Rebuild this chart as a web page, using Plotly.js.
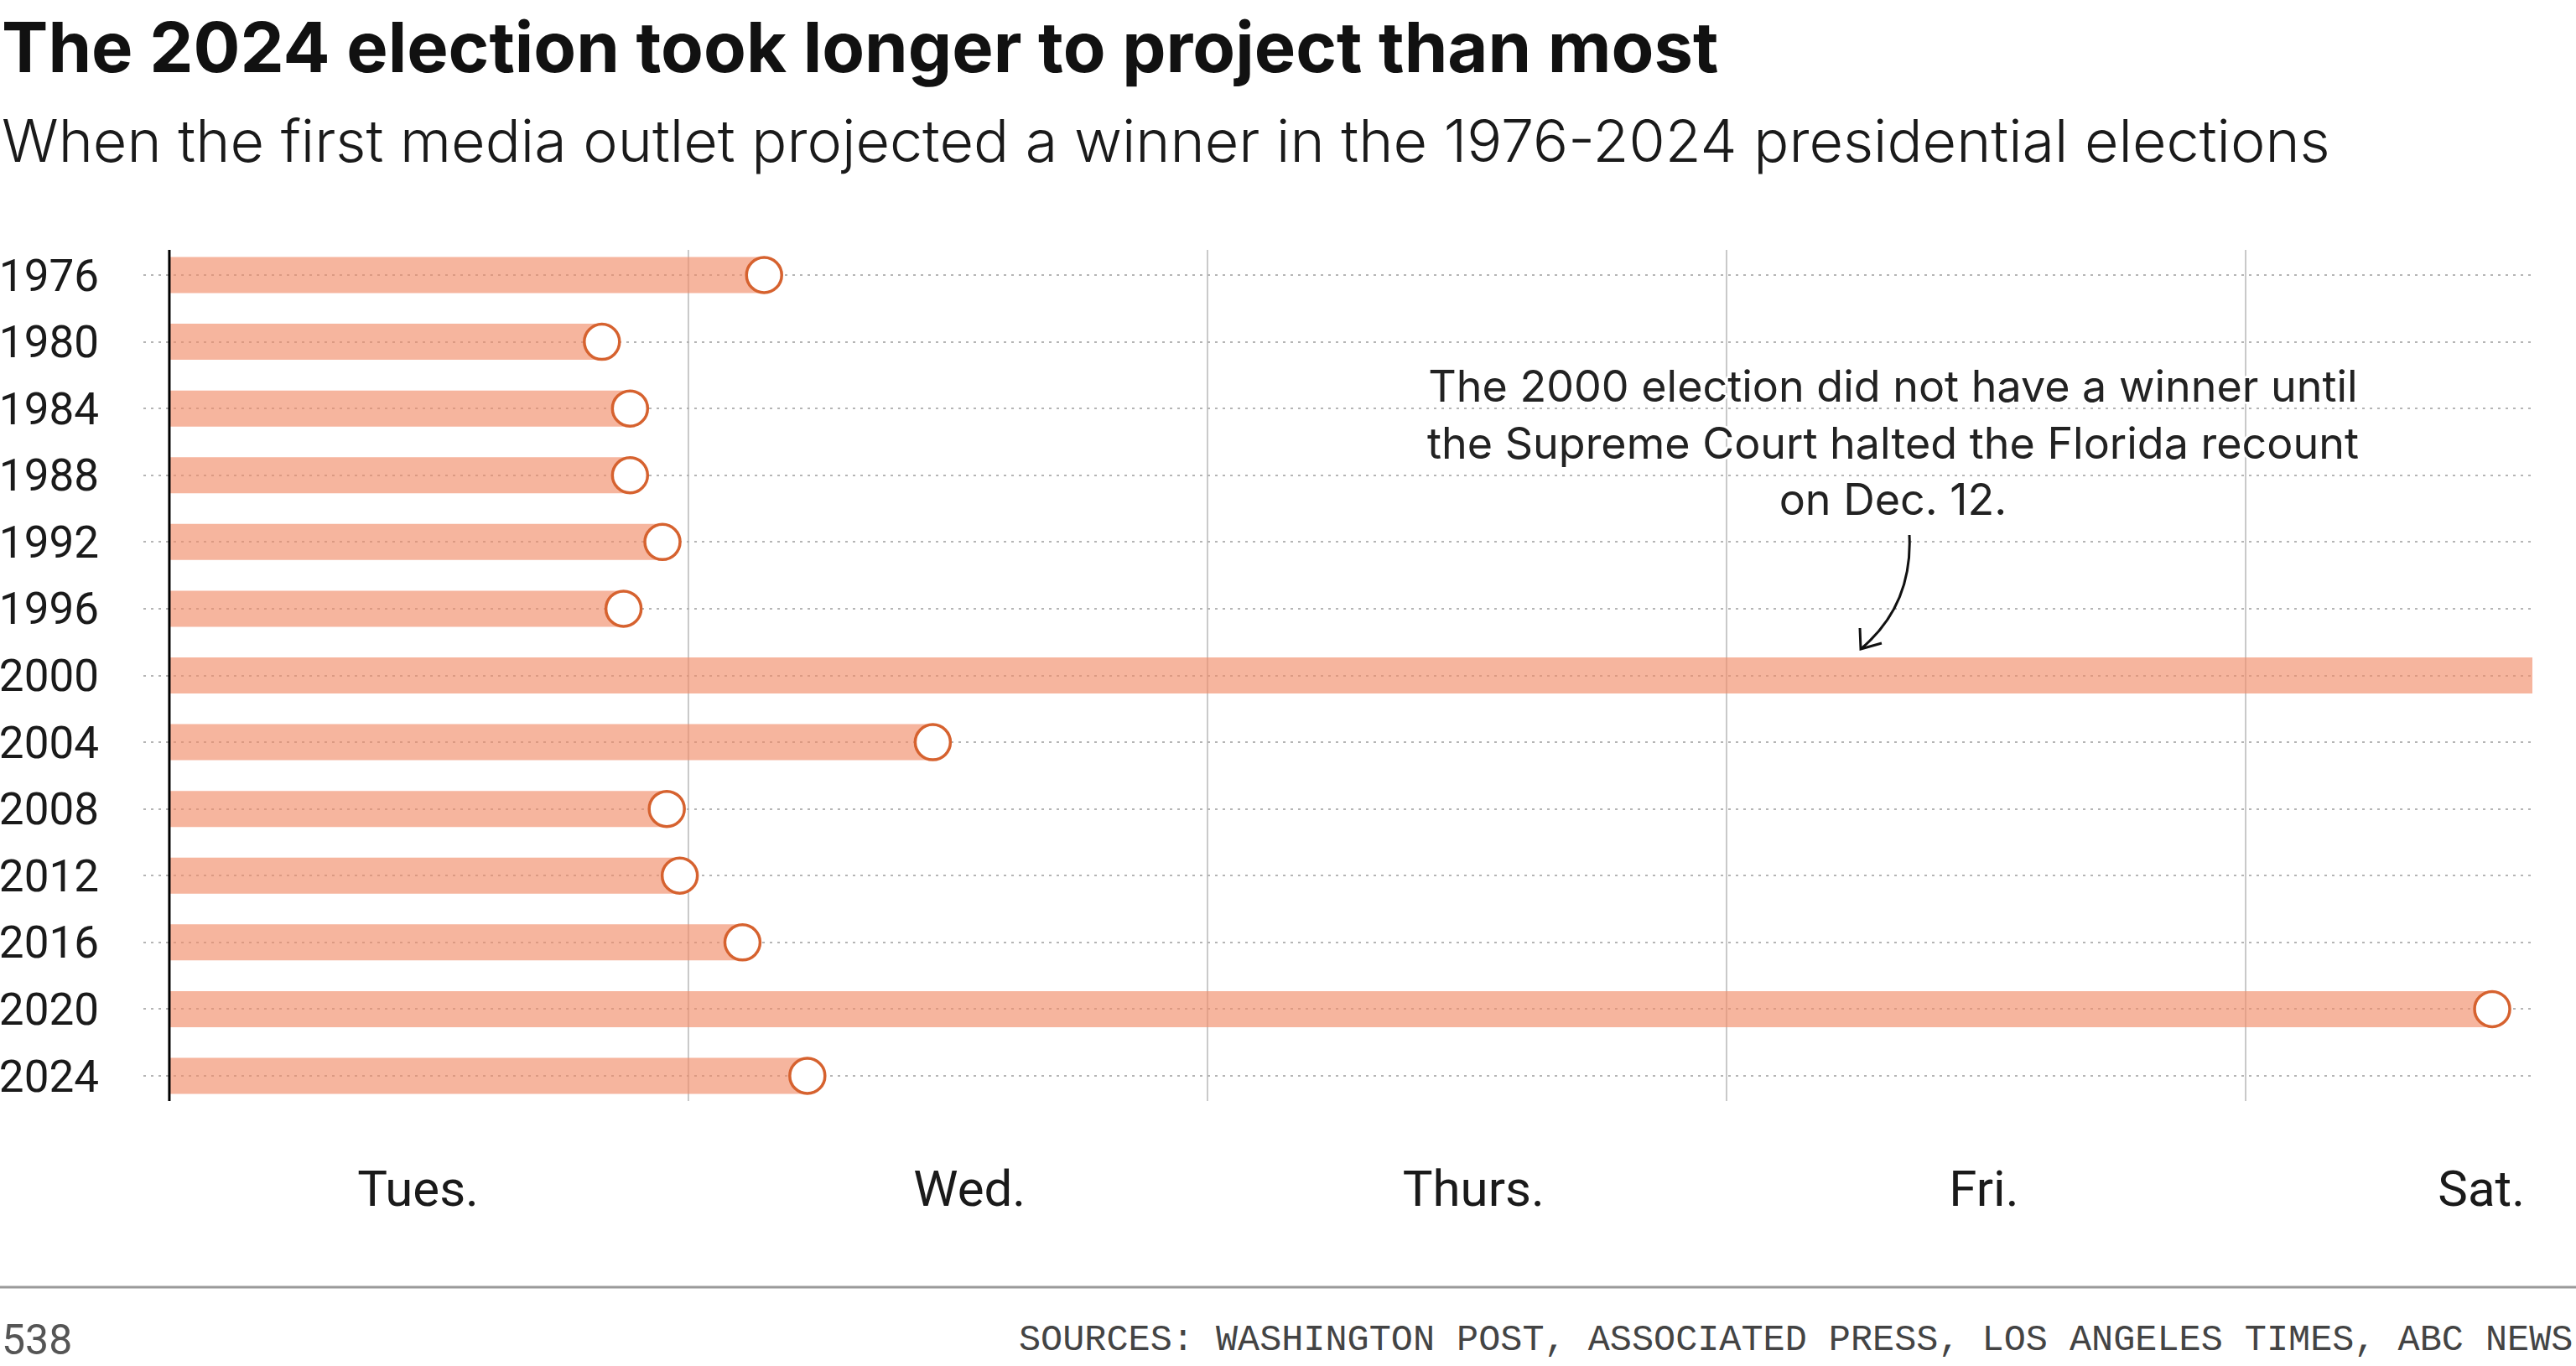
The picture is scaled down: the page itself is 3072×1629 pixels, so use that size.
<!DOCTYPE html>
<html>
<head>
<meta charset="utf-8">
<script src="https://cdn.plot.ly/plotly-3.0.1.min.js"></script>
<style>
  html, body { margin: 0; padding: 0; background: #fff; }
  #chart { width: 3072px; height: 1629px; }
</style>
</head>
<body>
<div id="chart"></div>
<script>
// ---- Data ----
// Election years (top to bottom)
const years = ['1976','1980','1984','1988','1992','1996','2000','2004','2008','2012','2016','2020','2024'];
// Hours after midnight at the start of Election Day (Tuesday) when the first outlet projected a winner.
// 2000: no winner until Dec. 12 (about 35 days later), so the bar runs off the chart.
const projectedHours = [27.5, 20.0, 21.3, 21.3, 22.8, 21.0, 862, 35.3, 23.0, 23.6, 26.5, 107.4, 29.5];
// Day labels along the bottom
const dayLabels = ['Tues.', 'Wed.', 'Thurs.', 'Fri.', 'Sat.'];
const dayLabelHours = [11.5, 37.0, 60.3, 83.9, 106.9];
// Midnight boundaries between days (hours)
const dayBoundaries = [24, 48, 72, 96];
const noteText = 'The 2000 election did not have a winner until<br>the Supreme Court halted the Florida recount<br>on Dec. 12.';
const titleText = 'The 2024 election took longer to project than most';
const subtitleText = 'When the first media outlet projected a winner in the 1976-2024 presidential elections';
const sourceText = 'SOURCES: WASHINGTON POST, ASSOCIATED PRESS, LOS ANGELES TIMES, ABC NEWS';
const brandText = '538';

// ---- Layout geometry ----
const W = 3072, H = 1629;
const M = { l: 171, r: 52, t: 298, b: 316 };
const PW = W - M.l - M.r, PH = H - M.t - M.b;
const px = x => (x - M.l) / PW;           // page px -> paper x
const py = y => (H - M.b - y) / PH;       // page px -> paper y

const FONT = 'Roboto, "Noto Sans", sans-serif';
const HEAD = 'Inter, Roboto, sans-serif';
const barColor = 'rgba(241,140,104,0.64)';
const dotColor = '#d6622f';

const bars = {
  type: 'bar', orientation: 'h',
  y: years, x: projectedHours,
  width: 0.54,
  marker: { color: barColor, line: { width: 0 } },
  hoverinfo: 'skip'
};
const ends = {
  type: 'scatter', mode: 'markers',
  y: years, x: projectedHours,
  cliponaxis: true,
  marker: { size: 42, color: '#ffffff', line: { color: dotColor, width: 3.5 } },
  hoverinfo: 'skip'
};

const shapes = dayBoundaries.map(h => ({
  type: 'line', xref: 'x', yref: 'paper', x0: h, x1: h, y0: 0, y1: 1,
  line: { color: '#c9c9c9', width: 2 }, layer: 'below'
}));
// black baseline at x = 0
shapes.push({ type: 'line', xref: 'x', yref: 'paper', x0: 0, x1: 0, y0: 0, y1: 1,
  line: { color: '#000', width: 3 }, layer: 'above' });
// footer rule
shapes.push({ type: 'line', xref: 'paper', yref: 'paper', x0: px(0), x1: px(W), y0: py(1535), y1: py(1535),
  line: { color: '#9a9a9a', width: 3 } });
// curved pointer arrow for the note
const P = (x, y) => px(x).toFixed(5) + ',' + py(y).toFixed(5);
shapes.push({ type: 'path', xref: 'paper', yref: 'paper',
  path: 'M' + P(2277, 638) + ' Q' + P(2281, 722) + ' ' + P(2219, 774),
  line: { color: '#111', width: 3 } });
shapes.push({ type: 'path', xref: 'paper', yref: 'paper',
  path: 'M' + P(2218, 749) + ' L' + P(2219, 774) + ' L' + P(2244, 767),
  line: { color: '#111', width: 3 } });

const halo = '3px 0 0 #fff, -3px 0 0 #fff, 0 3px 0 #fff, 0 -3px 0 #fff, 2px 2px 0 #fff, -2px -2px 0 #fff, 2px -2px 0 #fff, -2px 2px 0 #fff';

const annotations = [
  { text: '<b>' + titleText + '</b>', xref: 'paper', yref: 'paper', x: px(0), y: py(56),
    xanchor: 'left', yanchor: 'middle', showarrow: false,
    font: { family: HEAD, size: 83, color: '#111' } },
  { text: subtitleText, xref: 'paper', yref: 'paper', x: px(0), y: py(167),
    xanchor: 'left', yanchor: 'middle', showarrow: false,
    font: { family: HEAD, size: 70, color: '#1a1a1a', weight: 300 } },
  { text: noteText, xref: 'paper', yref: 'paper', x: px(2257), y: py(528),
    xanchor: 'center', yanchor: 'middle', align: 'center', showarrow: false,
    font: { family: HEAD, size: 52, color: '#222', shadow: halo } },
  { text: brandText, xref: 'paper', yref: 'paper', x: px(0), y: py(1598),
    xanchor: 'left', yanchor: 'middle', showarrow: false,
    font: { family: FONT, size: 50, color: '#555' } },
  { text: sourceText, xref: 'paper', yref: 'paper', x: px(3070), y: py(1598),
    xanchor: 'right', yanchor: 'middle', showarrow: false,
    font: { family: '"Liberation Mono", "DejaVu Sans Mono", monospace', size: 43.5, color: '#444' } }
];

const layout = {
  width: W, height: H, autosize: false,
  margin: M,
  paper_bgcolor: '#fff', plot_bgcolor: '#fff',
  showlegend: false,
  font: { family: FONT, color: '#222' },
  barmode: 'overlay',
  xaxis: {
    range: [-1.2, 109.26], fixedrange: true,
    tickmode: 'array', tickvals: dayLabelHours, ticktext: dayLabels,
    showgrid: false, zeroline: false, showline: false, ticks: '',
    tickfont: { family: FONT, size: 60, color: '#1a1a1a' },
    ticklabelstandoff: 64
  },
  yaxis: {
    type: 'category', categoryorder: 'array', categoryarray: years,
    range: [12.377, -0.377], fixedrange: true,
    showgrid: true, gridcolor: '#b5b5b5', gridwidth: 2, griddash: '3px,6px',
    zeroline: false, showline: false, ticks: '',
    tickfont: { family: FONT, size: 53, color: '#1a1a1a' },
    ticklabelstandoff: 52
  },
  shapes: shapes,
  annotations: annotations
};

Plotly.newPlot('chart', [bars, ends], layout, { staticPlot: true, displayModeBar: false });
</script>
</body>
</html>
